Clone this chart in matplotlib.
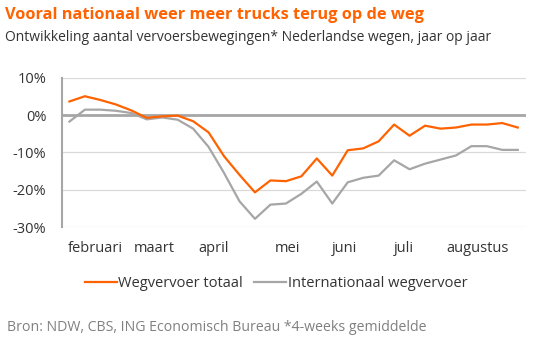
import matplotlib
matplotlib.use("Agg")
import matplotlib.pyplot as plt
from matplotlib.lines import Line2D

plt.rcParams['font.family'] = ['Open Sans', 'DejaVu Sans']

weeks = list(range(30))
wegvervoer_totaal = [3.7, 5.1, 4.1, 2.9, 1.3, -0.7, -0.3, -0.1, -1.6, -4.6,
                     -11.0, -16.0, -20.7, -17.5, -17.7, -16.4, -11.6, -16.2, -9.4, -8.9,
                     -7.0, -2.5, -5.5, -2.8, -3.6, -3.3, -2.5, -2.5, -2.1, -3.3]
internationaal = [-1.7, 1.5, 1.5, 1.2, 0.6, -1.1, -0.6, -1.2, -3.6, -8.5,
                  -15.5, -23.1, -27.8, -24.0, -23.7, -21.1, -17.8, -23.7, -18.0, -16.8,
                  -16.2, -12.1, -14.5, -13.0, -11.9, -10.8, -8.3, -8.3, -9.3, -9.3]
month_labels = ["februari", "maart", "april", "mei", "juni", "juli", "augustus"]
month_pos = [1.7, 5.5, 9.3, 14.1, 17.8, 21.6, 26.4]
y_ticks = [10, 0, -10, -20, -30]
y_ticklabels = ["10%", "0%", "-10%", "-20%", "-30%"]

ORANGE = "#FF6200"
GREY = "#A6A6A6"
TEXT = "#333333"

fig = plt.figure(figsize=(5.5, 3.48), dpi=100)
ax = fig.add_axes([0.1122, 0.3477, 0.9555 - 0.1122, 0.7759 - 0.3477])

for y in y_ticks:
    if y != 0:
        ax.axhline(y, color="#D9D9D9", lw=0.9, zorder=1)
ax.axhline(0, color="#A6A6A6", lw=2.0, zorder=2)

ax.plot(weeks, internationaal, color=GREY, lw=1.6, zorder=3)
ax.plot(weeks, wegvervoer_totaal, color=ORANGE, lw=1.6, zorder=4)

ax.set_xlim(-0.5, 29.5)
ax.set_ylim(-30, 10)
ax.set_yticks(y_ticks)
ax.set_yticklabels(y_ticklabels, fontsize=10.5, color=TEXT)
ax.set_xticks(month_pos)
ax.set_xticklabels(month_labels, fontsize=10.5, color=TEXT)
ax.tick_params(axis='both', length=0)
ax.tick_params(axis='y', pad=11)
ax.tick_params(axis='x', pad=10)
for s in ["top", "right", "bottom"]:
    ax.spines[s].set_visible(False)
ax.spines["left"].set_color("#A6A6A6")
ax.spines["left"].set_linewidth(1.5)

fig.text(0.009, 0.958, "Vooral nationaal weer meer trucks terug op de weg",
         color=ORANGE, fontsize=11.8, fontweight="bold", va="center", ha="left")
fig.text(0.009, 0.893, "Ontwikkeling aantal vervoersbewegingen* Nederlandse wegen, jaar op jaar",
         color=TEXT, fontsize=10, va="center", ha="left")

handles = [Line2D([], [], color=ORANGE, lw=1.6), Line2D([], [], color=GREY, lw=1.6)]
fig.legend(handles, ["Wegvervoer totaal", "Internationaal wegvervoer"],
           loc="center", bbox_to_anchor=(0.502, 0.185), ncol=2, frameon=False,
           fontsize=10.5, handlelength=2.2, handletextpad=0.1, columnspacing=0.75,
           labelcolor=TEXT)

fig.text(0.012, 0.06, "Bron: NDW, CBS, ING Economisch Bureau *4-weeks gemiddelde",
         color="#808080", fontsize=10.2, va="center", ha="left")

fig.savefig("out.png", dpi=100)
